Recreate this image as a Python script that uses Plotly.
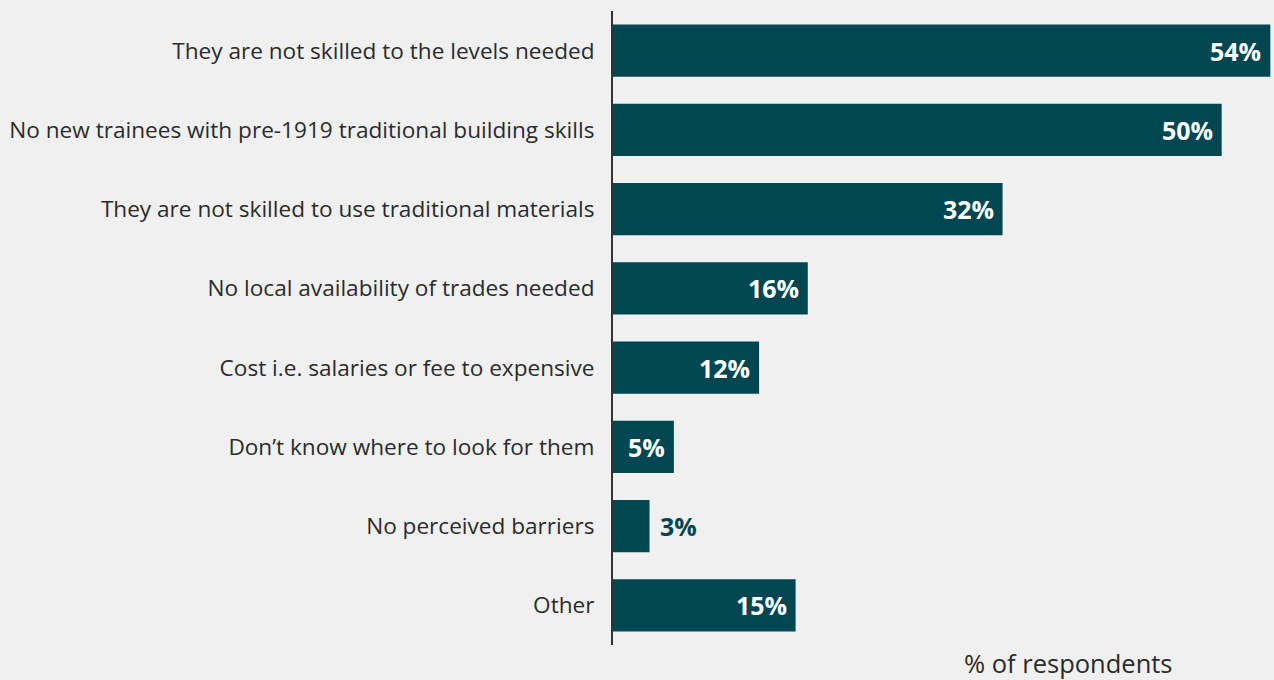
import plotly.graph_objects as go

# Survey responses: barriers to finding skilled trades
categories = [
    "They are not skilled to the levels needed",
    "No new trainees with pre-1919 traditional building skills",
    "They are not skilled to use traditional materials",
    "No local availability of trades needed",
    "Cost i.e. salaries or fee to expensive",
    "Don\u2019t know where to look for them",
    "No perceived barriers",
    "Other",
]
values = [54, 50, 32, 16, 12, 5, 3, 15]
value_labels = ["54%", "50%", "32%", "16%", "12%", "5%", "3%", "15%"]

TEAL = "#024652"
BG = "#f0f0f0"
TEXT = "#2b2b2b"
FONT = "Open Sans"

fig = go.Figure(
    go.Bar(
        x=values,
        y=categories,
        orientation="h",
        marker=dict(color=TEAL, line=dict(width=0)),
        hoverinfo="skip",
    )
)

# Value labels: white inside the bar end, teal just past short bars
for cat, val, lab in zip(categories, values, value_labels):
    inside = val >= 5
    fig.add_annotation(
        x=val,
        y=cat,
        xref="x",
        yref="y",
        text=f"<b>{lab}</b>",
        showarrow=False,
        xanchor="right" if inside else "left",
        xshift=-7 if inside else 8,
        yanchor="middle",
        font=dict(family=FONT, size=25, color="white" if inside else TEAL),
    )

fig.update_layout(
    width=1274,
    height=680,
    paper_bgcolor=BG,
    plot_bgcolor=BG,
    margin=dict(l=613, r=0, t=11, b=35),
    bargap=0.34,
    showlegend=False,
    font=dict(family=FONT, color=TEXT, size=22.7),
)

fig.update_xaxes(
    range=[0, 54.3],
    showgrid=False,
    zeroline=False,
    showticklabels=False,
    showline=False,
    fixedrange=True,
)

fig.update_yaxes(
    autorange="reversed",
    showgrid=False,
    zeroline=False,
    showline=True,
    linecolor="#333333",
    linewidth=2,
    ticks="",
    ticklabelstandoff=12,
    tickfont=dict(family=FONT, size=22.6, color=TEXT),
    fixedrange=True,
)

fig.add_annotation(
    text="% of respondents",
    xref="paper",
    yref="paper",
    x=0.689,
    y=0,
    yshift=-18,
    xanchor="center",
    yanchor="middle",
    showarrow=False,
    font=dict(family=FONT, size=25.5, color=TEXT),
)

fig.write_html("out.html")
